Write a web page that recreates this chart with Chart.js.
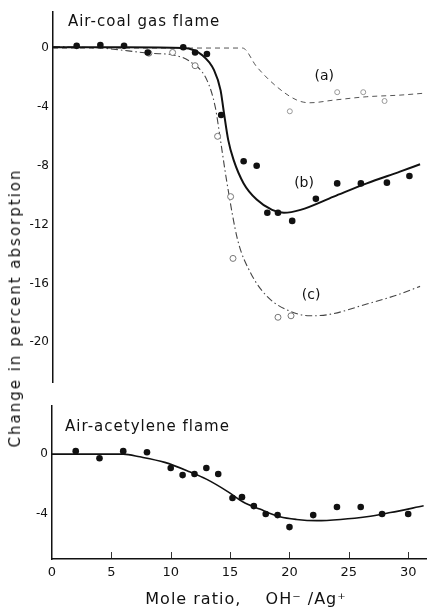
<!DOCTYPE html>
<html>
<head>
<meta charset="utf-8">
<script src="https://cdn.jsdelivr.net/npm/chart.js@4"></script>
<style>
  body { margin: 0; background: #fff; }
  #wrap { position: relative; width: 441px; height: 608px; overflow: hidden; }
  #coalChart { position: absolute; left: 0; top: 0; }
  #acetChart { position: absolute; left: 0; top: 395px; }
  .axisTitle { position: absolute; white-space: nowrap; color: #111; font-family: "DejaVu Sans"; }
  #yTitle { left: 15px; top: 308px; font-size: 15px; letter-spacing: 2px; transform: translate(-50%, -50%) rotate(-90deg); }
  #xTitle { left: 246px; top: 598px; font-size: 16px; letter-spacing: 1px; transform: translate(-50%, -50%); }
</style>
</head>
<body>
<div id="wrap">
  <canvas id="coalChart" width="441" height="395"></canvas>
  <canvas id="acetChart" width="441" height="213"></canvas>
  <div id="yTitle" class="axisTitle">Change in percent absorption</div>
  <div id="xTitle" class="axisTitle">Mole ratio,&nbsp;&nbsp;&nbsp; OH⁻ /Ag⁺</div>
</div>
<script>
  // axis ticks
  const xTicks = [0, 5, 10, 15, 20, 25, 30];
  const coalTicks = [0, -4, -8, -12, -16, -20];
  const acetTicks = [0, -4];

  // Air-coal gas flame, series (b): measured points
  const coalB_x = [2, 4, 6, 8, 11, 12, 13, 14.2, 16.1, 17.2, 18.1, 19, 20.2, 22.2, 24, 26, 28.2, 30.1];
  const coalB_y = [0.15, 0.2, 0.15, -0.3, 0.05, -0.3, -0.4, -4.55, -7.7, -8.0, -11.2, -11.2, -11.75, -10.25, -9.2, -9.2, -9.15, -8.7];
  // series (c): open circles
  const coalC_x = [8.1, 10.1, 12, 13.9, 15, 15.2, 19, 20.1];
  const coalC_y = [-0.35, -0.3, -1.2, -6.0, -10.1, -14.3, -18.3, -18.2];
  // series (a): open circles
  const coalA_x = [20, 24, 26.2, 28];
  const coalA_y = [-4.3, -3.0, -3.0, -3.6];

  // drawn curves through each series
  const fitA_x = [0, 16, 17.2, 18.9, 20.6, 21.7, 23.7, 26.5, 29.3, 31.2];
  const fitA_y = [0, 0, -1.27, -2.63, -3.54, -3.72, -3.54, -3.31, -3.2, -3.08];
  const fitB_x = [0, 6, 11, 12.6, 13.6, 14.15, 14.4, 14.8, 15.25, 16.1, 17.2, 18.5, 19.5, 20.9, 23.7, 26.5, 29.3, 31];
  const fitB_y = [0.05, 0.05, 0, -0.48, -1.5, -2.86, -4.2, -6.26, -7.6, -9.2, -10.3, -11.0, -11.2, -11.0, -10.1, -9.2, -8.4, -7.9];
  const fitC_x = [0, 4, 8.3, 10.2, 11.6, 13, 13.7, 14.15, 14.7, 15.6, 16.7, 18.1, 20.05, 21.7, 23.4, 26.5, 29, 31];
  const fitC_y = [0.1, 0, -0.36, -0.48, -0.93, -2.18, -4.0, -6.3, -9.2, -13.06, -15.3, -16.9, -17.9, -18.2, -18.1, -17.4, -16.8, -16.2];

  // Air-acetylene flame
  const acetX = [2, 4, 6, 8, 10, 11, 12, 13, 14, 15.2, 16, 17, 18, 19, 20, 22, 24, 26, 27.8, 30];
  const acetY = [0.2, -0.27, 0.2, 0.13, -0.93, -1.4, -1.33, -0.93, -1.33, -2.93, -2.87, -3.47, -4.0, -4.07, -4.87, -4.07, -3.53, -3.53, -4.0, -4.0];
  const acetFitX = [0, 6, 7.4, 9.5, 11.6, 13, 14.8, 16.1, 17.5, 19.2, 20.6, 22.3, 24.3, 26.5, 28.5, 31.3];
  const acetFitY = [0, 0, -0.18, -0.55, -1.18, -1.67, -2.5, -3.2, -3.67, -4.18, -4.36, -4.44, -4.36, -4.18, -3.9, -3.45];

  const ink = '#111';
  const font = 'DejaVu Sans';

  function pts(xs, ys) {
    return xs.map((x, i) => ({ x: x, y: ys[i] }));
  }

  function dots(xs, ys, opts) {
    return Object.assign({
      data: pts(xs, ys),
      showLine: false,
      pointRadius: 3.3,
      pointBackgroundColor: ink,
      pointBorderWidth: 0,
      order: 0
    }, opts);
  }

  function curve(xs, ys, opts) {
    return Object.assign({
      data: pts(xs, ys),
      showLine: true,
      pointRadius: 0,
      borderColor: ink,
      borderWidth: 1.6,
      tension: 0.4,
      cubicInterpolationMode: 'monotone',
      order: 1
    }, opts);
  }

  // text inside the plot area, placed in data units
  const plotText = {
    id: 'plotText',
    afterDraw(chart, args, opts) {
      const { ctx, scales: { x, y } } = chart;
      ctx.save();
      ctx.fillStyle = ink;
      ctx.textBaseline = 'middle';
      (opts.items || []).forEach(it => {
        ctx.font = it.font;
        ctx.letterSpacing = it.spacing || '0px';
        ctx.textAlign = it.align || 'center';
        ctx.fillText(it.text, x.getPixelForValue(it.x), y.getPixelForValue(it.y));
      });
      ctx.restore();
    }
  };

  // short tick marks standing inside the bottom axis
  const innerTicks = {
    id: 'innerTicks',
    afterDraw(chart, args, opts) {
      if (!opts.show) return;
      const { ctx, chartArea, scales: { x } } = chart;
      ctx.save();
      ctx.strokeStyle = '#333';
      ctx.lineWidth = 1;
      xTicks.forEach(v => {
        if (v === 0) return;
        const px = Math.round(x.getPixelForValue(v)) + 0.5;
        ctx.beginPath();
        ctx.moveTo(px, chartArea.bottom - 7);
        ctx.lineTo(px, chartArea.bottom - 1);
        ctx.stroke();
      });
      ctx.restore();
    }
  };

  function yAxis(min, max, ticks, width) {
    return {
      type: 'linear',
      min: min,
      max: max,
      afterBuildTicks: s => { s.ticks = ticks.map(v => ({ value: v })); },
      afterFit: s => { s.width = width; },
      grid: { display: false, drawTicks: false },
      border: { display: true, color: ink, width: 1.5 },
      ticks: { padding: 4, color: ink, font: { family: font, size: 12 } }
    };
  }

  new Chart(document.getElementById('coalChart'), {
    type: 'scatter',
    data: {
      datasets: [
        dots(coalB_x, coalB_y),
        dots(coalC_x, coalC_y, { pointRadius: 3, pointBackgroundColor: '#fff', pointBorderColor: '#777', pointBorderWidth: 1 }),
        dots(coalA_x, coalA_y, { pointRadius: 2.5, pointBackgroundColor: '#fff', pointBorderColor: '#999', pointBorderWidth: 1 }),
        curve(fitB_x, fitB_y, { borderWidth: 2 }),
        curve(fitC_x, fitC_y, { borderWidth: 1.1, borderColor: '#444', borderDash: [7, 3, 1.5, 3] }),
        curve(fitA_x, fitA_y, { borderWidth: 1, borderColor: '#555', borderDash: [5, 4] })
      ]
    },
    options: {
      responsive: false,
      animation: false,
      layout: { padding: { left: 0, top: 12, right: 15, bottom: 13 } },
      plugins: {
        legend: { display: false },
        tooltip: { enabled: false },
        plotText: {
          items: [
            { text: 'Air-coal gas flame', x: 1.26, y: 1.77, align: 'left', font: '15px "DejaVu Sans"', spacing: '1px' },
            { text: '(a)', x: 22.9, y: -1.9, font: '14px "DejaVu Sans"' },
            { text: '(b)', x: 21.2, y: -9.2, font: '14px "DejaVu Sans"' },
            { text: '(c)', x: 21.8, y: -16.8, font: '14px "DejaVu Sans"' }
          ]
        }
      },
      scales: {
        x: { type: 'linear', min: 0, max: 31.5, display: false },
        y: yAxis(-22.7, 2.45, coalTicks, 53)
      }
    },
    plugins: [plotText]
  });

  new Chart(document.getElementById('acetChart'), {
    type: 'scatter',
    data: {
      datasets: [
        dots(acetX, acetY),
        curve(acetFitX, acetFitY, { borderWidth: 1.6 })
      ]
    },
    options: {
      responsive: false,
      animation: false,
      layout: { padding: { left: 0, top: 11, right: 15, bottom: 0 } },
      plugins: {
        legend: { display: false },
        tooltip: { enabled: false },
        innerTicks: { show: true },
        plotText: {
          items: [
            { text: 'Air-acetylene flame', x: 1.1, y: 1.8, align: 'left', font: '15px "DejaVu Sans"', spacing: '1px' }
          ]
        }
      },
      scales: {
        x: {
          type: 'linear',
          min: 0,
          max: 31.5,
          afterBuildTicks: s => { s.ticks = xTicks.map(v => ({ value: v })); },
          afterFit: s => { s.height = 49; },
          grid: { display: false, drawTicks: false },
          border: { display: true, color: ink, width: 1.5 },
          ticks: { padding: 6, color: ink, maxRotation: 0, font: { family: font, size: 13 } }
        },
        y: yAxis(-7, 3.2, acetTicks, 52)
      }
    },
    plugins: [plotText, innerTicks]
  });
</script>
</body>
</html>
